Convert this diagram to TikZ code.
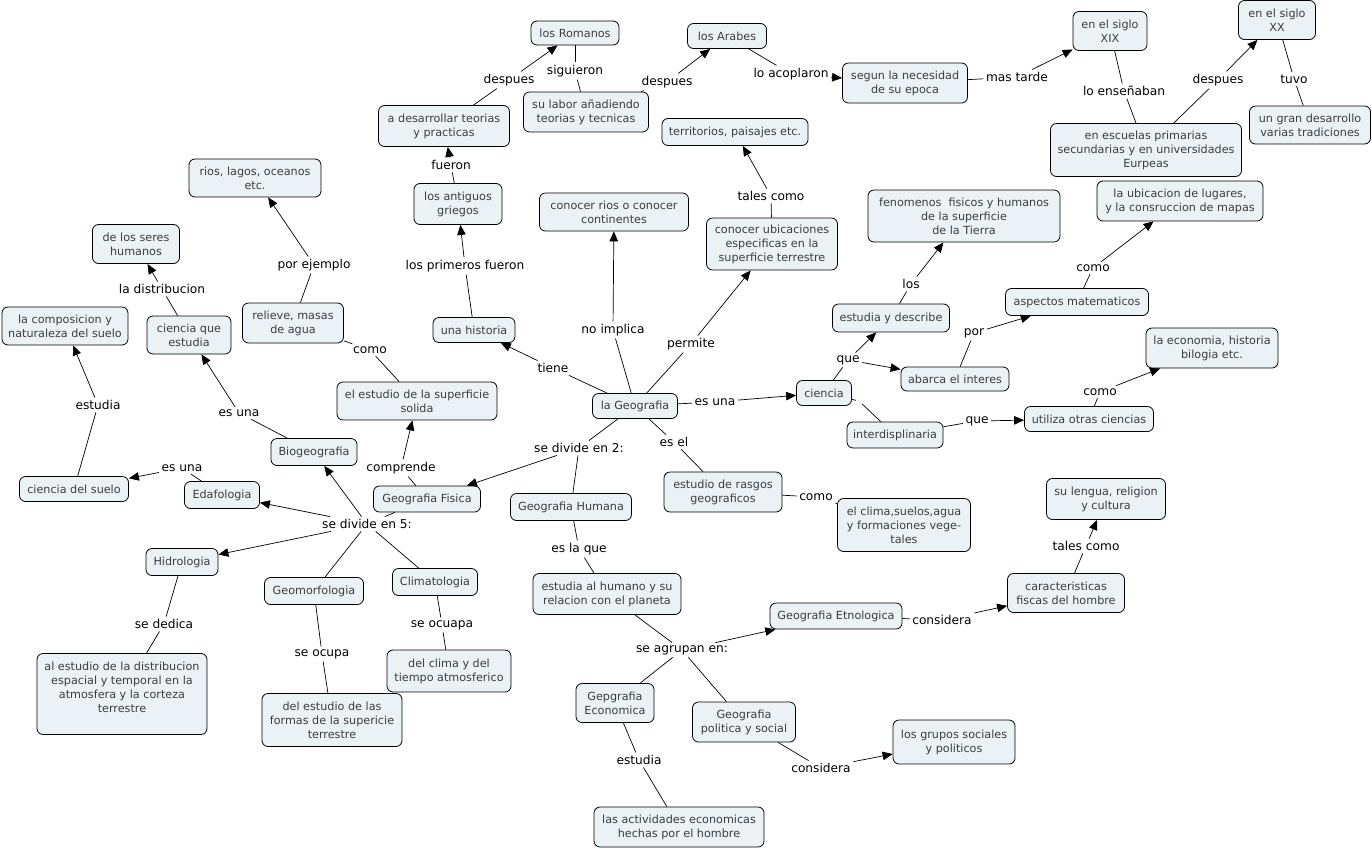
\documentclass[tikz,border=0pt]{standalone}
\usepackage{fontspec}
\setmainfont{DejaVu Sans}
\usepackage{tikz}
\usetikzlibrary{
  arrows.meta,
  positioning
}
\definecolor{concept_fill}{RGB}{235, 242, 245}
\definecolor{concept_text}{RGB}{60, 60, 60}

\begin{document}
\begin{tikzpicture}[
    x=1pt, y=-1pt,
    >={Triangle[length=10pt,width=8.5pt]},
    % Styles
    concept_box/.style={
        rectangle, draw=black, line width=0.8pt, rounded corners=6pt, fill=concept_fill,
        text=concept_text, align=center, inner xsep=4pt, inner ysep=3pt,
        minimum height=25pt, font=\fontsize{11.2}{14}\selectfont
    },
    link_label/.style={
        inner sep=2.5pt, text=black, font=\fontsize{12.2}{14}\selectfont
    },
    link_line/.style={draw=black, line width=0.7pt}
]
\useasboundingbox (0,0) rectangle (1372,849);

% 1. CENTRE: la Geografia
\node[concept_box, minimum width=85] (geo) at (635,406) {la Geografia};

% 2. History (top)
\node[concept_box, minimum width=82] (historia) at (474,330) {una historia};
\node[concept_box, minimum width=88, minimum height=41] (griegos) at (458,204) {los antiguos\\griegos};
\node[concept_box, minimum width=131, minimum height=41] (teorias) at (444,126) {a desarrollar teorias\\y practicas};
\node[concept_box, minimum width=88, minimum height=24] (romanos) at (575,33) {los Romanos};
\node[concept_box, minimum width=125, minimum height=40] (labor) at (586,112) {su labor añadiendo\\teorias y tecnicas};
\node[concept_box, minimum width=79] (arabes) at (727,36) {los Arabes};
\node[concept_box, minimum width=125, minimum height=40] (segun) at (905,83) {segun la necesidad\\de su epoca};
\node[concept_box, minimum width=74, minimum height=39] (xix) at (1110,31) {en el siglo\\XIX};
\node[concept_box, minimum width=191, minimum height=53] (escuelas) at (1146,150) {en escuelas primarias\\secundarias y en universidades\\Eurpeas};
\node[concept_box, minimum width=77, minimum height=39] (xx) at (1277,20) {en el siglo\\XX};
\node[concept_box, minimum width=121, minimum height=38] (desarrollo) at (1310,125) {un gran desarrollo\\varias tradiciones};

% 3. What it implies / allows
\node[concept_box, minimum width=149, minimum height=38] (rios_cont) at (614,212) {conocer rios o conocer\\continentes};
\node[concept_box, minimum width=131, minimum height=52] (ubic_esp) at (772,244) {conocer ubicaciones\\especificas en la\\superficie terrestre};
\node[concept_box, minimum width=146, minimum height=27] (territorios) at (735,132) {territorios, paisajes etc.};

% 4. Ciencia branch (right)
\node[concept_box, minimum width=55] (ciencia) at (824,393) {ciencia};
\node[concept_box, minimum width=117, minimum height=28] (describe) at (891,318) {estudia y describe};
\node[concept_box, minimum width=192, minimum height=52] (fenomenos) at (964,216) {fenomenos\ \ fisicos y humanos\\de la superficie\\de la Tierra};
\node[concept_box, minimum width=108, minimum height=24] (interes) at (955,379) {abarca el interes};
\node[concept_box, minimum width=143, minimum height=27] (matematicos) at (1077,302) {aspectos matematicos};
\node[concept_box, minimum width=166, minimum height=40] (ubicacion) at (1180,201) {la ubicacion de lugares,\\y la consruccion de mapas};
\node[concept_box, minimum width=96, minimum height=26] (interdis) at (895,435) {interdisplinaria};
\node[concept_box, minimum width=129] (otras) at (1089,419) {utiliza otras ciencias};
\node[concept_box, minimum width=132, minimum height=40] (economia) at (1212,348) {la economia, historia\\bilogia etc.};

% 5. Estudio de rasgos
\node[concept_box, minimum width=118, minimum height=40] (rasgos) at (723,492) {estudio de rasgos\\geograficos};
\node[concept_box, minimum width=133, minimum height=53] (clima_suelos) at (904,525) {el clima,suelos,agua\\y formaciones vege-\\tales};

% 6. Geografia Fisica (left)
\node[concept_box, minimum width=107, minimum height=26] (fisica) at (427,499) {Geografia Fisica};
\node[concept_box, minimum width=160, minimum height=38] (superficie) at (417,401) {el estudio de la superficie\\solida};
\node[concept_box, minimum width=101, minimum height=40] (relieve) at (293,323) {relieve, masas\\de agua};
\node[concept_box, minimum width=132, minimum height=38] (rios_lagos) at (255,178) {rios, lagos, oceanos\\etc.};
\node[concept_box, minimum width=86, minimum height=27] (biogeo) at (314,452) {Biogeografia};
\node[concept_box, minimum width=84, minimum height=38] (ciencia_est) at (189,335) {ciencia que\\estudia};
\node[concept_box, minimum width=87, minimum height=39] (seres) at (136,244) {de los seres\\humanos};
\node[concept_box, minimum width=75, minimum height=27] (edafo) at (222,495) {Edafologia};
\node[concept_box, minimum width=109] (suelo) at (74,489) {ciencia del suelo};
\node[concept_box, minimum width=126, minimum height=38] (composicion) at (65,326) {la composicion y\\naturaleza del suelo};
\node[concept_box, minimum width=72, minimum height=27] (hidro) at (182,562) {Hidrologia};
\node[concept_box, minimum width=170, minimum height=81] (hidro_est) at (122,694) {al estudio de la distribucion\\espacial y temporal en la\\atmosfera y la corteza\\terrestre\\ \mbox{}};
\node[concept_box, minimum width=99, minimum height=27] (geomorfo) at (314,591) {Geomorfologia};
\node[concept_box, minimum width=140, minimum height=53] (formas) at (332,720) {del estudio de las\\formas de la supericie\\terrestre};
\node[concept_box, minimum width=85, minimum height=27] (clima) at (435,582) {Climatologia};
\node[concept_box, minimum width=124, minimum height=42] (atmos) at (449,671) {del clima y del\\tiempo atmosferico};

% 7. Geografia Humana (bottom)
\node[concept_box, minimum width=121, minimum height=27] (humana) at (571,507) {Geografia Humana};
\node[concept_box, minimum width=148, minimum height=41] (humano) at (607,594) {estudia al humano y su\\relacion con el planeta};
\node[concept_box, minimum width=132, minimum height=26] (etno) at (836,616) {Geografia Etnologica};
\node[concept_box, minimum width=117, minimum height=39] (caract) at (1066,593) {caracteristicas\\fiscas del hombre};
\node[concept_box, minimum width=119, minimum height=41] (lengua) at (1106,499) {su lengua, religion\\y cultura};
\node[concept_box, minimum width=78, minimum height=39] (economica) at (615,703) {Gepgrafia\\Economica};
\node[concept_box, minimum width=170, minimum height=40] (actividades) at (679,827) {las actividades economicas\\hechas por el hombre};
\node[concept_box, minimum width=103, minimum height=40] (politica) at (744,722) {Geografia\\politica y social};
\node[concept_box, minimum width=122, minimum height=44] (grupos) at (954,742) {los grupos sociales\\y politicos};

% --- Linking phrases ---
\node[link_label] (l_desp1) at (509,80) {despues};
\node[link_label] (l_sig) at (575,71) {siguieron};
\node[link_label] (l_desp2) at (667,82) {despues};
\node[link_label] (l_acop) at (791,74) {lo acoplaron};
\node[link_label] (l_tarde) at (1017,77) {mas tarde};
\node[link_label] (l_ensen) at (1124,91) {lo enseñaban};
\node[link_label] (l_desp3) at (1218,80) {despues};
\node[link_label] (l_tuvo) at (1294,79) {tuvo};
\node[link_label] (l_fueron) at (451,165) {fueron};
\node[link_label] (l_prim) at (465,266) {los primeros fueron};
\node[link_label] (l_noimp) at (613,330) {no implica};
\node[link_label] (l_perm) at (691,344) {permite};
\node[link_label] (l_tales1) at (771,196) {tales como};
\node[link_label] (l_tiene) at (553,368) {tiene};
\node[link_label] (l_esuna1) at (715,402) {es una};
\node[link_label] (l_esel) at (674,442) {es el};
\node[link_label] (l_div2) at (579,448) {se divide en 2:};
\node[link_label] (l_como1) at (816,497) {como};
\node[link_label] (l_que1) at (848,360) {que};
\node[link_label, inner sep=3pt] (l_inter) at (859,401) {};
\node[link_label] (l_los) at (911,284) {los};
\node[link_label] (l_por) at (974,333) {por};
\node[link_label] (l_como2) at (1093,268) {como};
\node[link_label] (l_que2) at (977,421) {que};
\node[link_label] (l_como3) at (1100,392) {como};
\node[link_label] (l_distr) at (162,289) {la distribucion};
\node[link_label] (l_ejemplo) at (314,265) {por ejemplo};
\node[link_label] (l_como4) at (370,350) {como};
\node[link_label] (l_compr) at (401,468) {comprende};
\node[link_label] (l_esuna2) at (239,413) {es una};
\node[link_label] (l_estudia1) at (98,405) {estudia};
\node[link_label] (l_esuna3) at (182,468) {es una};
\node[link_label] (l_div5) at (367,524) {se divide en 5:};
\node[link_label] (l_dedica) at (164,624) {se dedica};
\node[link_label] (l_ocupa) at (322,654) {se ocupa};
\node[link_label] (l_ocuapa) at (442,625) {se ocuapa};
\node[link_label] (l_eslaque) at (579,549) {es la que};
\node[link_label] (l_agrup) at (682,650) {se agrupan en:};
\node[link_label] (l_consid1) at (942,620) {considera};
\node[link_label] (l_tales2) at (1086,546) {tales como};
\node[link_label] (l_estudia2) at (639,760) {estudia};
\node[link_label] (l_consid2) at (821,768) {considera};

% --- Connections ---
% history chain
\draw[link_line] (historia) -- (l_prim);  \draw[link_line, ->] (l_prim) -- (griegos);
\draw[link_line] (griegos) -- (l_fueron); \draw[link_line, ->] (l_fueron) -- (teorias);
\draw[link_line] (teorias) -- (l_desp1);  \draw[link_line, ->] (l_desp1) -- (romanos);
\draw[link_line] (romanos) -- (l_sig);    \draw[link_line] (l_sig) -- (labor);
\draw[link_line] (labor) -- (l_desp2);    \draw[link_line, ->] (l_desp2) -- (arabes);
\draw[link_line] (arabes) -- (l_acop);    \draw[link_line, ->] (l_acop) -- (segun);
\draw[link_line] (segun) -- (l_tarde);    \draw[link_line, ->] (l_tarde) -- (xix);
\draw[link_line] (xix) -- (l_ensen);      \draw[link_line] (l_ensen) -- (escuelas);
\draw[link_line] (escuelas) -- (l_desp3); \draw[link_line, ->] (l_desp3) -- (xx);
\draw[link_line] (xx) -- (l_tuvo);        \draw[link_line] (l_tuvo) -- (desarrollo);

% from la Geografia
\draw[link_line] (geo) -- (l_tiene);   \draw[link_line, ->] (l_tiene) -- (historia);
\draw[link_line] (geo) -- (l_noimp);   \draw[link_line, ->] (l_noimp) -- (rios_cont);
\draw[link_line] (geo) -- (l_perm);    \draw[link_line, ->] (l_perm) -- (ubic_esp);
\draw[link_line] (ubic_esp) -- (l_tales1); \draw[link_line, ->] (l_tales1) -- (territorios);
\draw[link_line] (geo) -- (l_esuna1);  \draw[link_line, ->] (l_esuna1) -- (ciencia);
\draw[link_line] (geo) -- (l_esel);    \draw[link_line] (l_esel) -- (rasgos);
\draw[link_line] (rasgos) -- (l_como1); \draw[link_line] (l_como1) -- (clima_suelos);
\draw[link_line] (geo) -- (l_div2);
\draw[link_line, ->] (l_div2) -- (fisica);
\draw[link_line] (l_div2) -- (humana);

% ciencia branch
\draw[link_line] (ciencia) -- (l_que1);
\draw[link_line, ->] (l_que1) -- (describe);
\draw[link_line, ->] (l_que1) -- (interes);
\draw[link_line] (describe) -- (l_los);   \draw[link_line, ->] (l_los) -- (fenomenos);
\draw[link_line] (interes) -- (l_por);    \draw[link_line, ->] (l_por) -- (matematicos);
\draw[link_line] (matematicos) -- (l_como2); \draw[link_line, ->] (l_como2) -- (ubicacion);
\draw[link_line] (ciencia) -- (l_inter);  \draw[link_line] (l_inter) -- (interdis);
\draw[link_line] (interdis) -- (l_que2);  \draw[link_line, ->] (l_que2) -- (otras);
\draw[link_line] (otras) -- (l_como3);    \draw[link_line, ->] (l_como3) -- (economia);

% Geografia Fisica
\draw[link_line] (fisica) -- (l_compr);   \draw[link_line, ->] (l_compr) -- (superficie);
\draw[link_line] (superficie) -- (l_como4); \draw[link_line] (l_como4) -- (relieve);
\draw[link_line] (relieve) -- (l_ejemplo); \draw[link_line, ->] (l_ejemplo) -- (rios_lagos);
\draw[link_line] (fisica) -- (l_div5);
\draw[link_line, ->] (l_div5) -- (biogeo);
\draw[link_line, ->] (l_div5) -- (edafo);
\draw[link_line, ->] (l_div5) -- (hidro);
\draw[link_line] (l_div5) -- (geomorfo);
\draw[link_line] (l_div5) -- (clima);
\draw[link_line] (biogeo) -- (l_esuna2);  \draw[link_line, ->] (l_esuna2) -- (ciencia_est);
\draw[link_line] (ciencia_est) -- (l_distr); \draw[link_line, ->] (l_distr) -- (seres);
\draw[link_line] (edafo) -- (l_esuna3);   \draw[link_line, ->] (l_esuna3) -- (suelo);
\draw[link_line] (suelo) -- (l_estudia1); \draw[link_line, ->] (l_estudia1) -- (composicion);
\draw[link_line] (hidro) -- (l_dedica);   \draw[link_line] (l_dedica) -- (hidro_est);
\draw[link_line] (geomorfo) -- (l_ocupa); \draw[link_line] (l_ocupa) -- (formas);
\draw[link_line] (clima) -- (l_ocuapa);   \draw[link_line] (l_ocuapa) -- (atmos);

% Geografia Humana
\draw[link_line] (humana) -- (l_eslaque); \draw[link_line] (l_eslaque) -- (humano);
\draw[link_line] (humano) -- (l_agrup);
\draw[link_line, ->] (l_agrup) -- (etno);
\draw[link_line] (l_agrup) -- (economica);
\draw[link_line] (l_agrup) -- (politica);
\draw[link_line] (etno) -- (l_consid1);   \draw[link_line, ->] (l_consid1) -- (caract);
\draw[link_line] (caract) -- (l_tales2);  \draw[link_line, ->] (l_tales2) -- (lengua);
\draw[link_line] (economica) -- (l_estudia2); \draw[link_line] (l_estudia2) -- (actividades);
\draw[link_line] (politica) -- (l_consid2); \draw[link_line, ->] (l_consid2) -- (grupos);

\end{tikzpicture}
\end{document}
